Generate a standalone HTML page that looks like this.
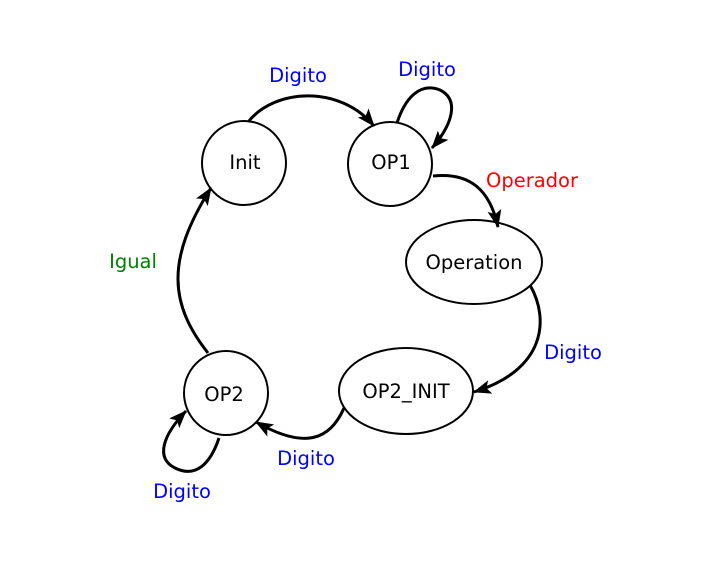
<!DOCTYPE html>
<html><head><meta charset="utf-8"><style>
html,body{margin:0;padding:0;background:#fff;width:725px;height:565px;overflow:hidden}
text{font-family:"DejaVu Sans","Liberation Sans",sans-serif;font-size:19.5px}
</style></head><body>
<svg width="725" height="565" viewBox="0 0 725 565" xmlns="http://www.w3.org/2000/svg">
<defs>
<marker id="a" markerWidth="20" markerHeight="14" refX="17" refY="7" orient="auto" markerUnits="userSpaceOnUse">
<path d="M0,0 L18,7 L0,14 L4,7 Z" fill="#000"/>
</marker>
</defs>
<g fill="none" stroke="#000" stroke-width="2">
<circle cx="244" cy="163" r="42"/>
<circle cx="390" cy="164" r="42"/>
<ellipse cx="474" cy="262" rx="68" ry="42"/>
<ellipse cx="406" cy="391" rx="67" ry="43"/>
<circle cx="226" cy="393" r="42"/>
</g>
<g fill="none" stroke="#000" stroke-width="3">
<path d="M248,122 C275,88 340,85 374,126" marker-end="url(#a)"/>
<path d="M397,123 C405,98 420,82 440,90 C460,100 452,125 432,148" marker-end="url(#a)"/>
<path d="M433,176 C470,172 490,190 498,227" marker-end="url(#a)"/>
<path d="M530,285 C550,320 545,370 474,392" marker-end="url(#a)"/>
<path d="M344,408 C330,440 305,450 256,422" marker-end="url(#a)"/>
<path d="M219,438 C210,465 195,478 175,468 C155,458 163,435 186,411" marker-end="url(#a)"/>
<path d="M208,353 C170,305 165,260 211,188" marker-end="url(#a)"/>
</g>
<g text-anchor="middle">
<text x="245" y="169">Init</text>
<text x="391" y="169">OP1</text>
<text x="474" y="269">Operation</text>
<text x="406" y="398">OP2_INIT</text>
<text x="224" y="401">OP2</text>
<text x="298" y="82" fill="#0000ff">Digito</text>
<text x="427" y="76" fill="#0000ff">Digito</text>
<text x="532" y="187" fill="#ff0000">Operador</text>
<text x="573" y="359" fill="#0000ff">Digito</text>
<text x="306" y="465" fill="#0000ff">Digito</text>
<text x="182" y="498" fill="#0000ff">Digito</text>
<text x="133" y="268" fill="#008000">Igual</text>
</g>
</svg>
</body></html>
